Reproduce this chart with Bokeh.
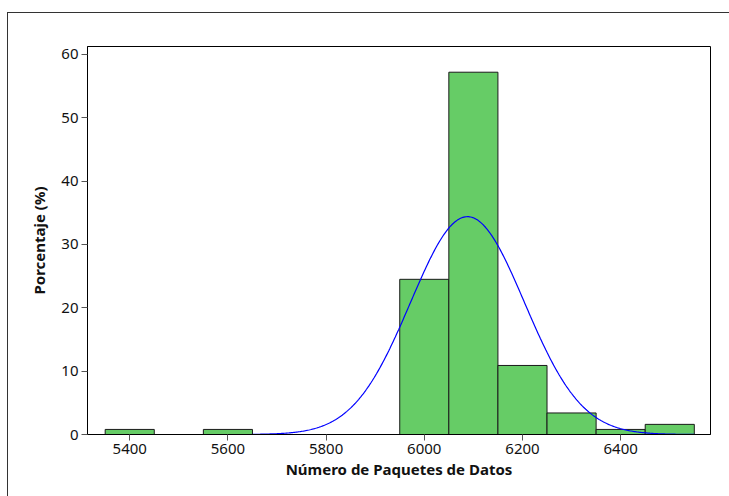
import numpy as np
from bokeh.plotting import figure
from bokeh.models import Range1d, FixedTicker, ColumnDataSource
from bokeh.embed import file_html
from bokeh.resources import INLINE

# ---- data ----
bin_centers = [5400, 5600, 6000, 6100, 6200, 6300, 6400, 6500]
percentages = [0.8, 0.8, 24.5, 57.2, 10.9, 3.4, 0.8, 1.6]
bin_width = 100
fit_mean = 6088.0
fit_sd = 116.0
curve_start, curve_end = 5650, 6550
x_ticks = [5400, 5600, 5800, 6000, 6200, 6400]
y_ticks = [0, 10, 20, 30, 40, 50, 60]
x_title = "Número de Paquetes de Datos"
y_title = "Porcentaje (%)"

FONT = "Noto Sans"

p = figure(width=722, height=484, output_backend="svg", toolbar_location=None,
           x_range=Range1d(5314, 6583), y_range=Range1d(0, 61.26),
           min_border_left=79, min_border_top=33, min_border_right=20, min_border_bottom=63)
p.styles = {"margin-left": "7px", "margin-top": "12px",
            "border-left": "1px solid #333333", "border-top": "1px solid #333333"}

p.grid.visible = False
p.outline_line_color = "black"
p.outline_line_width = 1
p.background_fill_color = "white"
p.border_fill_color = "white"

src = ColumnDataSource(dict(
    left=[c - bin_width / 2 for c in bin_centers],
    right=[c + bin_width / 2 for c in bin_centers],
    top=percentages,
))
p.quad(left="left", right="right", top="top", bottom=0, source=src,
       fill_color="#66CC66", line_color="#1a1a1a", line_width=1)

xs = np.linspace(curve_start, curve_end, 400)
ys = 100.0 * bin_width * np.exp(-0.5 * ((xs - fit_mean) / fit_sd) ** 2) / (fit_sd * np.sqrt(2 * np.pi))
p.line(xs, ys, line_color="#0000FF", line_width=1.2)

for ax, ticks in ((p.xaxis[0], x_ticks), (p.yaxis[0], y_ticks)):
    ax.ticker = FixedTicker(ticks=ticks)
    ax.minor_tick_line_color = None
    ax.major_tick_out = 6
    ax.major_tick_in = 0
    ax.major_tick_line_color = "#555555"
    ax.axis_line_color = "black"
    ax.major_label_text_font = FONT
    ax.major_label_text_font_size = "15px"
    ax.major_label_text_color = "#111111"
    ax.axis_label_text_font = FONT
    ax.axis_label_text_font_style = "bold"
    ax.axis_label_text_font_size = "15px"
    ax.axis_label_text_color = "#111111"

p.xaxis.axis_label = x_title
p.yaxis.axis_label = y_title
p.xaxis.major_label_standoff = 3
p.xaxis.axis_label_standoff = 2
p.yaxis.major_label_standoff = 3
p.yaxis.axis_label_standoff = 9

open("out.html", "w").write(file_html(p, INLINE))
